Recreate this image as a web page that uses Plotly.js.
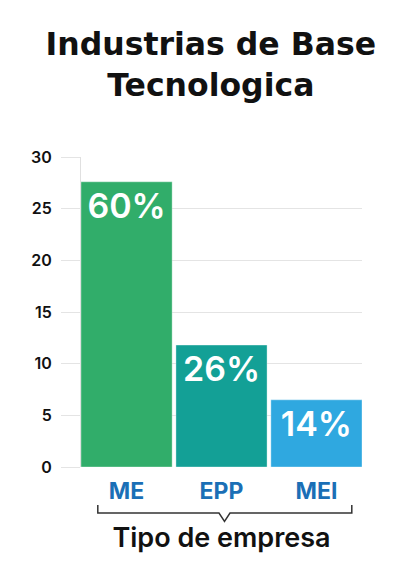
<!DOCTYPE html>
<html>
<head>
<meta charset="utf-8">
<script src="https://cdn.plot.ly/plotly-3.0.1.min.js"></script>
<style>html,body{margin:0;padding:0;background:#fff;}#chart{width:411px;height:582px;}</style>
</head>
<body>
<div id="chart"></div>
<script>
const categories = ["ME", "EPP", "MEI"];
const values = [27.6, 11.8, 6.5];
const labels = ["60%", "26%", "14%"];
const barColors = ["#31ad6a", "#13a096", "#2fa8e0"];
const yTicks = [0, 5, 10, 15, 20, 25, 30];

const FONT = "Inter, 'Open Sans', sans-serif";
const TITLE_FONT = "'DejaVu Sans', sans-serif";

const trace = {
  type: "bar",
  x: categories,
  y: values,
  text: labels,
  textposition: "inside",
  insidetextanchor: "end",
  textangle: 0,
  textfont: {family: FONT, size: 34, color: "#ffffff", weight: 600},
  marker: {color: barColors, line: {color: "rgba(255,255,255,0.35)", width: 1}},
  width: 0.96,
  hoverinfo: "none",
  cliponaxis: false
};

const layout = {
  width: 411,
  height: 582,
  margin: {l: 81, r: 49, t: 157, b: 115},
  paper_bgcolor: "#ffffff",
  plot_bgcolor: "#ffffff",
  showlegend: false,
  font: {family: FONT, color: "#111111"},
  title: {
    text: "Industrias de Base<br>Tecnologica",
    font: {family: TITLE_FONT, size: 31.5, color: "#111111", weight: 700},
    x: 0.513, xanchor: "center",
    y: 0.906, yanchor: "middle",
    xref: "container", yref: "container"
  },
  xaxis: {
    type: "category",
    range: [-0.48, 2.48],
    showgrid: false,
    zeroline: false,
    showline: false,
    ticks: "",
    tickfont: {family: FONT, size: 23, color: "#1b6fb6", weight: 700},
    ticklabelstandoff: 8,
    title: {text: "Tipo de empresa", font: {family: FONT, size: 27, color: "#111111", weight: 600}, standoff: 24},
    automargin: false,
    fixedrange: true
  },
  yaxis: {
    range: [0, 30],
    tickvals: yTicks,
    ticktext: yTicks.map(String),
    showgrid: true,
    gridcolor: "#e4e4e4",
    gridwidth: 1,
    zeroline: false,
    showline: true,
    linecolor: "#e0e0e0",
    linewidth: 1,
    ticks: "outside",
    ticklen: 19,
    tickcolor: "#e4e4e4",
    tickwidth: 1,
    ticklabelstandoff: 6,
    tickfont: {family: FONT, size: 16, color: "#111111", weight: 600},
    automargin: false,
    fixedrange: true
  },
  shapes: [
    {
      type: "path",
      xref: "paper", yref: "paper",
      path: "M 0.0598,-0.1226 L 0.0598,-0.1484 L 0.4911,-0.1484 L 0.5107,-0.1753 L 0.5302,-0.1484 L 0.9637,-0.1484 L 0.9637,-0.1226",
      line: {color: "#333333", width: 1.5}
    }
  ]
};

Plotly.newPlot("chart", [trace], layout, {displayModeBar: false, staticPlot: true});
</script>
</body>
</html>
